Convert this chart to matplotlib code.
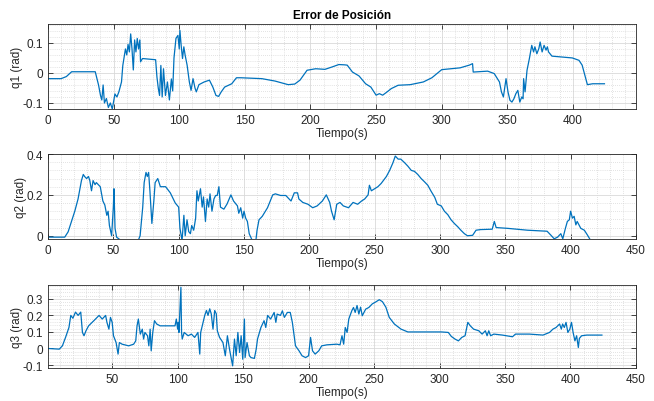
import numpy as np
import matplotlib
matplotlib.use("Agg")
import matplotlib.pyplot as plt
from matplotlib.ticker import FixedLocator, MultipleLocator, FormatStrFormatter

plt.rcParams["font.family"] = ["Liberation Sans", "DejaVu Sans"]

# (tiempo, error)
q1_points = [
    (0, -0.019), (10, -0.019), (14, -0.012), (18, 0.004), (36, 0.004), (38.5, -0.04),
    (40, -0.075), (41, -0.09), (42, -0.04), (43, -0.1), (44.5, -0.085), (46, -0.115),
    (47.5, -0.1), (49, -0.12), (51, -0.07), (52.5, -0.08), (54, -0.063), (56, -0.03),
    (57, 0.025), (59, 0.08), (60, 0.06), (61, 0.095), (62, 0.07), (63, 0.13), (64, 0.08),
    (65, 0.01), (66, 0.11), (67, 0.07), (68, 0.115), (69, 0.08), (70, 0.11), (70.5, 0.037),
    (72, 0.048), (82, 0.044), (83, -0.013), (84, -0.05), (85, -0.075), (86, 0.025),
    (87, -0.08), (88, 0.014), (89.5, -0.075), (91, -0.03), (92.5, -0.09), (94, -0.02),
    (95, -0.06), (96, 0.05), (97.5, 0.115), (99, 0.125), (100, 0.08), (100.5, 0.142),
    (101.5, 0.09), (102.5, 0.048), (103.5, 0.087), (104.5, 0.059), (106, 0.026),
    (107.7, -0.03), (109, -0.058), (110.5, -0.019), (112, -0.05), (113, -0.063),
    (115, -0.039), (119, -0.03), (123, -0.024), (125.6, -0.047), (128, -0.075),
    (130, -0.078), (132, -0.063), (134.6, -0.047), (140, -0.036), (143.6, -0.016),
    (147, -0.016), (163, -0.019), (173, -0.027), (183, -0.039), (188, -0.037),
    (192, -0.024), (195, -0.006), (197.4, 0.009), (204, 0.014), (211, 0.012),
    (216.5, 0.02), (221.6, 0.028), (226, 0.027), (228, 0.026), (232, 0.003), (237, -0.01),
    (242, -0.036), (246, -0.047), (250, -0.074), (252.5, -0.069), (255, -0.074),
    (257.5, -0.066), (261.6, -0.052), (266.8, -0.041), (276, -0.039), (286, -0.03),
    (292.5, -0.016), (300, 0.011), (306.7, 0.014), (314, 0.017), (321, 0.026),
    (323.5, 0.031), (324, 0.003), (335, 0.006), (340, -0.002), (344, -0.03),
    (345.5, -0.063), (347, -0.08), (349, -0.019), (350.5, -0.063), (352, -0.091),
    (353.5, -0.097), (355, -0.086), (356.5, -0.069), (358, -0.058), (359.5, -0.097),
    (361, -0.08), (362, -0.086), (362.4, -0.019), (363.5, -0.063), (365, 0.009),
    (366.8, 0.048), (368.6, 0.092), (370, 0.07), (371, 0.087), (372.5, 0.064),
    (374, 0.081), (375, 0.103), (376.5, 0.07), (378, 0.092), (379.5, 0.076),
    (380.5, 0.087), (381.4, 0.07), (384, 0.056), (392, 0.053), (399.5, 0.05),
    (404.6, 0.042), (407, 0.026), (409.8, -0.019), (411, -0.039), (415, -0.036),
    (424, -0.036),
]

q2_points = [
    (0, -0.007), (12.8, -0.007), (15.4, 0.019), (18, 0.07), (20.5, 0.12), (23, 0.18),
    (25.6, 0.27), (27, 0.3), (28, 0.29), (29.5, 0.28), (31, 0.29), (32, 0.27),
    (33.3, 0.22), (34.5, 0.27), (36, 0.25), (37, 0.26), (38.5, 0.25), (40, 0.24),
    (42, 0.17), (43.5, 0.15), (45, 0.10), (46, 0.12), (47, 0.05), (48.7, 0.0),
    (50, 0.14), (50.5, 0.23), (51.3, 0.036), (52.5, -0.007), (56, -0.024), (69, -0.024),
    (70.5, 0.0), (72.5, 0.14), (73.6, 0.26), (75, 0.31), (76, 0.29), (77, 0.31),
    (78, 0.22), (79.5, 0.06), (81, 0.17), (82, 0.26), (84, 0.28), (86, 0.24), (90, 0.24),
    (93.6, 0.21), (97.4, 0.16), (100, 0.14), (101, 0.036), (102.6, -0.024), (104, 0.10),
    (105, 0.0), (106.4, 0.078), (107.7, 0.02), (109, 0.01), (110, 0.05), (111.5, 0.027),
    (113, 0.086), (114, 0.22), (115, 0.17), (116.7, 0.23), (118, 0.14), (119, 0.19),
    (120.5, 0.07), (121.8, 0.18), (123, 0.14), (124, 0.205), (125.5, 0.12), (127, 0.18),
    (128.3, 0.197), (129.5, 0.197), (130.8, 0.24), (132, 0.14), (134.6, 0.13),
    (137, 0.155), (140, 0.2), (142, 0.17), (145, 0.146), (146, 0.11), (147.5, 0.137),
    (149, 0.086), (150, 0.12), (151.3, 0.086), (152.6, 0.07), (154, 0.01),
    (156.4, -0.024), (159, -0.029), (160, 0.027), (161.5, 0.078), (164, 0.095),
    (168, 0.137), (172, 0.2), (174, 0.205), (178, 0.197), (182, 0.197), (186, 0.17),
    (188.5, 0.21), (191, 0.21), (192, 0.18), (195, 0.163), (199, 0.154), (202.6, 0.137),
    (206, 0.146), (210, 0.17), (213, 0.2), (215.6, 0.163), (217, 0.12), (219, 0.078),
    (221, 0.154), (223.5, 0.163), (226, 0.146), (230, 0.137), (233.5, 0.163),
    (237, 0.154), (240, 0.17), (242.4, 0.18), (245, 0.2), (246, 0.247), (247.5, 0.22),
    (250, 0.23), (252.5, 0.24), (255, 0.256), (259, 0.29), (261.5, 0.32), (264, 0.357),
    (265.8, 0.39), (268, 0.375), (270, 0.375), (273, 0.357), (275.5, 0.34), (278, 0.32),
    (280.5, 0.315), (283, 0.30), (285.6, 0.28), (288, 0.265), (290.7, 0.247),
    (293, 0.22), (296, 0.188), (298, 0.154), (301, 0.146), (303.4, 0.12), (306, 0.103),
    (308.5, 0.078), (311, 0.06), (313.6, 0.044), (316, 0.027), (318.7, 0.01), (321, 0.0),
    (325, 0.002), (327.6, 0.027), (331, 0.03), (340, 0.032), (341.6, 0.07), (343, 0.04),
    (352, 0.036), (367, 0.027), (382, 0.022), (385, 0.002), (387.4, -0.015),
    (390, -0.007), (392.5, 0.01), (394, -0.015), (396, 0.036), (397.5, 0.07),
    (399, 0.078), (400, 0.12), (401.4, 0.086), (402.7, 0.095), (404, 0.053), (405, 0.07),
    (407.8, 0.036), (410.5, 0.027), (413, 0.002), (415.4, -0.024), (424, -0.027),
]

q3_points = [
    (1, 0.0), (9.6, -0.004), (12, 0.016), (14.4, 0.067), (17, 0.127), (18.4, 0.2),
    (20, 0.183), (22, 0.22), (24, 0.2), (26, 0.22), (27.3, 0.097), (28.5, 0.077),
    (30, 0.107), (32, 0.137), (36, 0.168), (40, 0.2), (42.4, 0.178), (45, 0.2),
    (46, 0.158), (47.5, 0.117), (48.7, 0.188), (50, 0.158), (51, 0.077), (53, 0.036),
    (54.5, -0.034), (55.5, 0.036), (57.6, 0.026), (62.6, 0.016), (66.4, 0.026),
    (68, 0.046), (69, 0.137), (70, 0.178), (71.5, 0.087), (73, 0.117), (74, 0.057),
    (75, 0.097), (77, 0.077), (78, 0.016), (79, 0.117), (79.8, -0.014), (81, 0.097),
    (82.3, 0.168), (84, 0.148), (86.6, 0.137), (98, 0.137), (99, 0.178), (100, 0.117),
    (100.5, 0.158), (101, 0.097), (102.5, 0.37), (103, 0.097), (103.5, 0.057),
    (105, 0.097), (108, 0.077), (110.5, 0.087), (113, 0.067), (115.5, 0.097),
    (116.9, -0.034), (117.6, 0.097), (119.4, 0.158), (120.7, 0.2), (122, 0.23),
    (123.2, 0.2), (124.5, 0.24), (125.7, 0.208), (127, 0.117), (128.3, 0.23),
    (129.5, 0.21), (130.3, 0.107), (132, 0.067), (134.6, 0.036), (136.4, -0.044),
    (138, 0.077), (139.6, -0.004), (141, -0.065), (142, -0.105), (143.4, 0.057),
    (144.7, -0.044), (146, 0.097), (147.3, -0.024), (148.5, 0.077), (149.7, -0.065),
    (151, 0.178), (151.5, -0.055), (153, 0.036), (154.8, -0.044), (156, -0.055),
    (158.6, -0.06), (160, -0.004), (161, 0.057), (163.6, 0.127), (166, 0.168),
    (167.3, 0.127), (168.7, 0.2), (171, 0.178), (173.7, 0.218), (175, 0.158),
    (176, 0.208), (178.5, 0.2), (180, 0.228), (181.5, 0.188), (183.8, 0.218),
    (186, 0.218), (187.6, 0.158), (190, 0.016), (192.7, -0.014), (195, -0.044),
    (197.7, -0.055), (200, -0.044), (201.5, 0.067), (203, -0.014), (205, -0.034),
    (207.8, -0.014), (210, 0.016), (214, 0.022), (221.6, 0.026), (224, 0.022),
    (225.5, 0.077), (226.8, 0.026), (228, 0.127), (229.4, 0.097), (230.7, 0.178),
    (233, 0.228), (234.3, 0.248), (235.6, 0.218), (237, 0.26), (238.4, 0.208),
    (239.7, 0.25), (241, 0.198), (243.6, 0.238), (246, 0.248), (248.7, 0.27),
    (251, 0.28), (254, 0.295), (256.4, 0.283), (259, 0.25), (261.6, 0.188),
    (265.5, 0.148), (270.6, 0.117), (275.8, 0.1), (286, 0.1), (301.5, 0.1),
    (306.7, 0.097), (309, 0.073), (311.8, 0.057), (314.4, 0.046), (317, 0.067),
    (319.5, 0.077), (321.6, 0.158), (323.5, 0.137), (326, 0.117), (330, 0.107),
    (332.5, 0.087), (335, 0.107), (336.3, 0.077), (337.6, 0.107), (339, 0.077),
    (341.5, 0.087), (348, 0.081), (355.7, 0.071), (358, 0.087), (368.6, 0.087),
    (379, 0.081), (384, 0.097), (386.6, 0.117), (389, 0.127), (391.7, 0.148),
    (393, 0.117), (394, 0.148), (395.3, 0.127), (396.6, 0.158), (398, 0.097),
    (399.5, 0.117), (400.8, 0.158), (402, 0.097), (403.4, 0.046), (404.7, 0.077),
    (406, 0.006), (406.8, 0.061), (408.5, 0.077), (412.4, 0.081), (424, 0.081),
]

ylabels = ["q1 (rad)", "q2 (rad)", "q3 (rad)"]
x_ticks = [[0, 50, 100, 150, 200, 250, 300, 350, 400],
           [0, 50, 100, 150, 200, 250, 300, 350, 400, 450],
           [50, 100, 150, 200, 250, 300, 350, 400, 450]]
y_ticks = [[-0.1, 0, 0.1], [0, 0.2, 0.4], [-0.1, 0, 0.1, 0.2, 0.3]]
x_lims = [(0, 448), (0, 450), (1, 450)]
y_lims = [(-0.12, 0.163), (-0.016, 0.4), (-0.118, 0.384)]
y_minor = [0.02, 0.04, 0.02]

matlab_blue = "#0072BD"
dark = "#262626"

fig = plt.figure(figsize=(6.54, 4.02), dpi=100)
positions = [
    [0.0734, 0.7264, 0.899, 0.2114],
    [0.0734, 0.4030, 0.899, 0.2114],
    [0.0734, 0.0821, 0.899, 0.2065],
]

for i, pts in enumerate([q1_points, q2_points, q3_points]):
    ax = fig.add_axes(positions[i])
    t, q = np.array(pts).T
    ax.plot(t, q, color=matlab_blue, linewidth=0.9)

    ax.set_xlim(*x_lims[i])
    ax.set_ylim(*y_lims[i])
    ax.xaxis.set_major_locator(FixedLocator(x_ticks[i]))
    ax.yaxis.set_major_locator(FixedLocator(y_ticks[i]))
    ax.xaxis.set_minor_locator(MultipleLocator(10))
    ax.yaxis.set_minor_locator(MultipleLocator(y_minor[i]))
    ax.yaxis.set_major_formatter(FormatStrFormatter("%g"))

    ax.grid(which="major", color="#d9d9d9", linewidth=0.6)
    ax.grid(which="minor", color="#c8c8c8", linewidth=0.5, linestyle=(0, (1, 2)))
    ax.set_axisbelow(True)

    ax.tick_params(which="both", direction="in", top=True, right=True,
                   labelsize=8.5, colors=dark, labelcolor=dark, width=0.6)
    ax.tick_params(which="major", length=3.5)
    ax.tick_params(which="minor", length=0)
    for s in ax.spines.values():
        s.set_color(dark)
        s.set_linewidth(0.6)

    ax.set_ylabel(ylabels[i], fontsize=8.5, color=dark, labelpad=0)
    ax.set_xlabel("Tiempo(s)", fontsize=8.5, color=dark, labelpad=1)
    if i == 0:
        ax.set_title("Error de Posición", fontsize=8.5, fontweight="bold",
                     color="black", pad=4)

fig.savefig("out.png", dpi=100, facecolor="white")
